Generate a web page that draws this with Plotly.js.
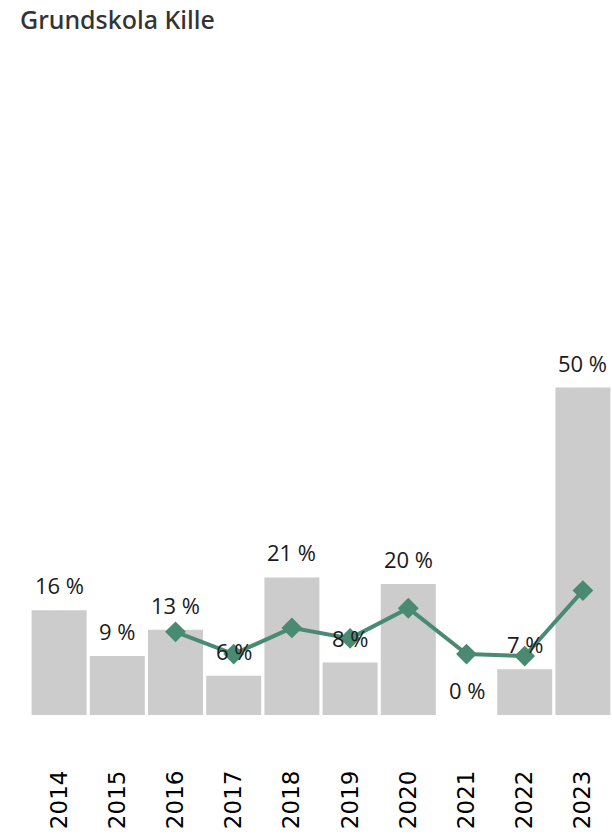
<!DOCTYPE html>
<html>
<head>
<meta charset="utf-8">
<script src="https://cdn.plot.ly/plotly-3.0.1.min.js"></script>
<style>html,body{margin:0;padding:0;background:#fff;}#chart{width:612px;height:837px;}</style>
</head>
<body>
<div id="chart"></div>
<script>
const years = [2014, 2015, 2016, 2017, 2018, 2019, 2020, 2021, 2022, 2023];
const yearLabels = ['2014','2015','2016','2017','2018','2019','2020','2021','2022','2023'];
const shareValues = [16, 9, 13, 6, 21, 8, 20, 0, 7, 50];
const avgYears = [2016, 2017, 2018, 2019, 2020, 2021, 2022, 2023];
const avgValues = [12.7, 9.3, 13.3, 11.7, 16.3, 9.3, 9.0, 19.0];

const bars = {
  type: 'bar', x: years, y: shareValues,
  marker: {color: '#cccccc'},
  hoverinfo: 'none', showlegend: false
};
const line = {
  type: 'scatter', mode: 'lines+markers', x: avgYears, y: avgValues,
  line: {color: '#4a8a73', width: 4},
  marker: {symbol: 'diamond', size: 16, color: '#4a8a73'},
  hoverinfo: 'none', showlegend: false, cliponaxis: false
};
const annotations = years.map((yr, i) => ({
  x: yr, y: shareValues[i], xref: 'x', yref: 'y',
  text: shareValues[i] + ' %', showarrow: false,
  yanchor: 'bottom', yshift: 8,
  font: {family: 'Open Sans, Noto Sans, sans-serif', size: 22, color: '#1a1a1a'}
}));

const layout = {
  width: 612, height: 837,
  margin: {l: 30, r: 0, t: 60, b: 122},
  paper_bgcolor: '#ffffff', plot_bgcolor: '#ffffff',
  bargap: 0.055,
  title: {
    text: 'Grundskola Kille',
    font: {family: 'Noto Sans, sans-serif', size: 25, color: '#333333', weight: 500},
    x: 20/612, xref: 'container', xanchor: 'left',
    y: 1 - 20/837, yref: 'container', yanchor: 'middle'
  },
  xaxis: {
    type: 'linear', range: [2013.5, 2023.5], tickmode: 'array',
    tickvals: years, ticktext: yearLabels,
    tickangle: -90, showgrid: false, zeroline: false,
    showline: false, ticks: '', ticklabelstandoff: 50,
    tickfont: {family: 'DejaVu Sans, sans-serif', size: 23, color: '#000000'}
  },
  yaxis: {range: [0, 100], visible: false, showgrid: false, zeroline: false},
  annotations: annotations
};
Plotly.newPlot('chart', [bars, line], layout, {displayModeBar: false, staticPlot: true});
</script>
</body>
</html>
